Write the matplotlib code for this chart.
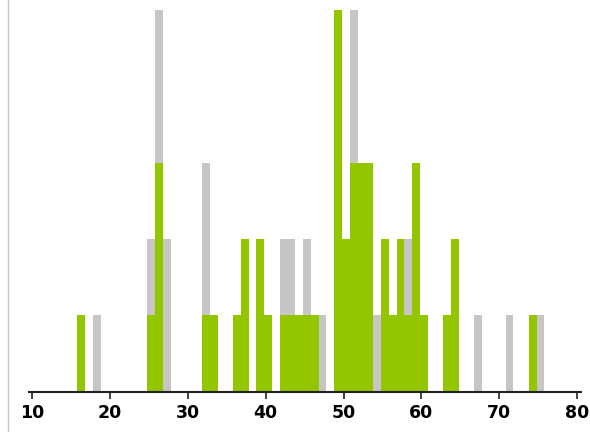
import numpy as np
import matplotlib
matplotlib.use("Agg")
import matplotlib.pyplot as plt
from matplotlib.lines import Line2D

# bins (left value of each 1-wide bin)
bins = list(range(15, 77))

# counts (gray drawn behind, green in front)
gray_counts = {18: 1, 25: 2, 26: 5, 27: 2, 32: 3, 42: 2, 43: 2, 45: 2,
               47: 1, 51: 5, 54: 1, 58: 2, 67: 1, 71: 1, 75: 1}
green_counts = {16: 1, 25: 1, 26: 3, 32: 1, 33: 1, 36: 1, 37: 2, 39: 2,
                40: 1, 42: 1, 43: 1, 44: 1, 45: 1, 46: 1, 49: 5, 50: 2,
                51: 3, 52: 3, 53: 3, 55: 2, 56: 1, 57: 2, 58: 1, 59: 3,
                60: 1, 63: 1, 64: 2, 74: 1}

gray = np.array([gray_counts.get(b, 0) for b in bins])
green = np.array([green_counts.get(b, 0) for b in bins])
xs = np.array(bins) - 0.2

fig = plt.figure(figsize=(5.9, 4.32), dpi=100)
ax = fig.add_axes([29 / 590, (432 - 391.7) / 432, 552 / 590, 381.7 / 432])

ax.bar(xs, gray, width=1.0, align="edge", color="#c6c6c6", linewidth=0)
ax.bar(xs, green, width=1.0, align="edge", color="#94c600", linewidth=0)

ax.set_xlim(9.58, 80.5)
ax.set_ylim(0, 5)
ax.set_xticks(range(10, 81, 10))
ax.tick_params(axis="x", direction="out", length=5, width=1.2, color="#222222",
               pad=4, labelsize=12.5)
for lab in ax.get_xticklabels():
    lab.set_fontweight("bold")
ax.set_yticks([])
for s in ["top", "right", "left"]:
    ax.spines[s].set_visible(False)
ax.spines["bottom"].set_color("#222222")
ax.spines["bottom"].set_linewidth(1.5)

# container border on the left
fig.add_artist(Line2D([7.5 / 590, 7.5 / 590], [0, 1], color="#c8c8c8", linewidth=1))

fig.savefig("out.png", dpi=100)
